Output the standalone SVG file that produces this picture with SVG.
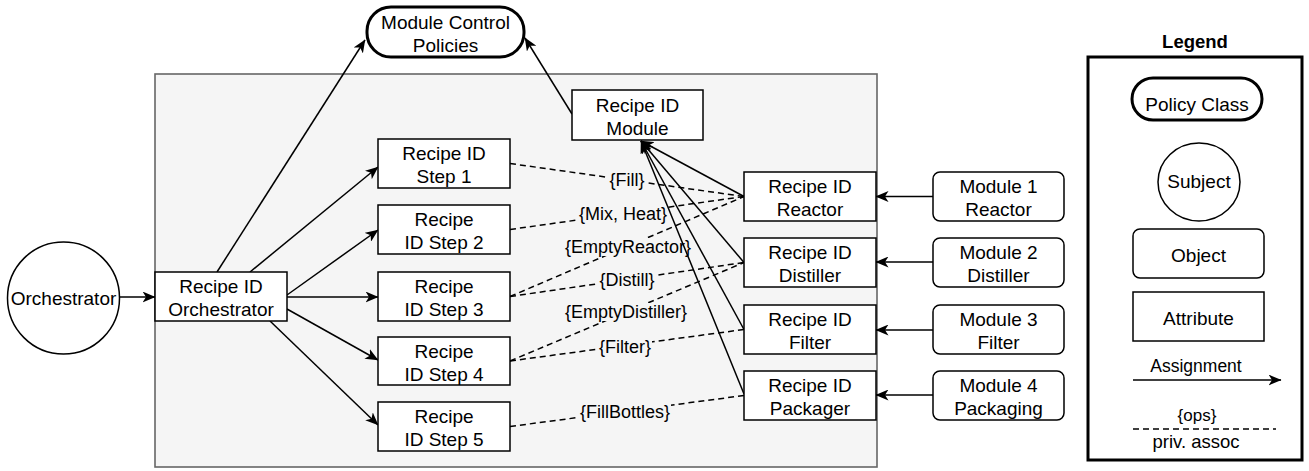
<svg xmlns="http://www.w3.org/2000/svg" width="1309" height="471" viewBox="0 0 1309 471">
<defs>
<style>
text{font-family:"Liberation Sans",Arial,Helvetica,sans-serif;fill:#000;text-anchor:middle}
.t{font-size:19px}
.lbl{font-size:18px}
.box{fill:#fff;stroke:#000;stroke-width:1.5}
.pill{fill:#fff;stroke:#000;stroke-width:3}
.edge{fill:none;stroke:#000;stroke-width:1.5;marker-end:url(#arr)}
.dash{fill:none;stroke:#000;stroke-width:1.5;stroke-dasharray:6 4}
.lbg{fill:#f5f5f5}
</style>
<marker id="arr" viewBox="0 0 13 11" refX="12.5" refY="5.5" markerWidth="13" markerHeight="11" markerUnits="userSpaceOnUse" orient="auto">
<path d="M0,0 L13,5.5 L0,11 L3.5,5.5 Z" fill="#000"/>
</marker>
</defs>
<rect width="1309" height="471" fill="#fff"/>
<g id="container">
<rect x="155" y="74" width="722" height="393" fill="#f5f5f5" stroke="#666" stroke-width="1.6"/>
</g>
<g id="connectors">
<line class="dash" x1="510" y1="163.5" x2="744" y2="196.5"/>
<line class="dash" x1="510" y1="229.5" x2="744" y2="196.5"/>
<line class="dash" x1="510" y1="296.5" x2="744" y2="196.5"/>
<line class="dash" x1="510" y1="296.5" x2="744" y2="262.5"/>
<line class="dash" x1="510" y1="361" x2="744" y2="262.5"/>
<line class="dash" x1="510" y1="361" x2="744" y2="329.5"/>
<line class="dash" x1="510" y1="426.5" x2="744" y2="395.5"/>
<rect class="lbg" x="609" y="171" width="37" height="18"/><text class="lbl" x="627" y="186">{Fill}</text>
<rect class="lbg" x="578" y="205" width="90" height="18"/><text class="lbl" x="623" y="220">{Mix, Heat}</text>
<rect class="lbg" x="564" y="238" width="128" height="18"/><text class="lbl" x="628" y="253">{EmptyReactor}</text>
<rect class="lbg" x="599" y="271" width="57" height="18"/><text class="lbl" x="627" y="286">{Distill}</text>
<rect class="lbg" x="564" y="303" width="124" height="18"/><text class="lbl" x="626" y="318">{EmptyDistiller}</text>
<rect class="lbg" x="598" y="338" width="54" height="18"/><text class="lbl" x="625" y="353">{Filter}</text>
<rect class="lbg" x="579" y="403" width="92" height="18"/><text class="lbl" x="625" y="418">{FillBottles}</text>
<line class="edge" x1="119.5" y1="297" x2="155" y2="297"/>
<line class="edge" x1="217" y1="272" x2="365" y2="40"/>
<line class="edge" x1="572" y1="114" x2="525" y2="38"/>
<line class="edge" x1="250" y1="272" x2="378" y2="167"/>
<line class="edge" x1="287" y1="295" x2="378" y2="230"/>
<line class="edge" x1="287" y1="297" x2="378" y2="297"/>
<line class="edge" x1="287" y1="309" x2="378" y2="360"/>
<line class="edge" x1="270" y1="321" x2="378" y2="425"/>
<line class="edge" x1="744" y1="196.5" x2="641" y2="141"/>
<line class="edge" x1="744" y1="262.5" x2="641" y2="141"/>
<line class="edge" x1="744" y1="329.5" x2="641" y2="141"/>
<line class="edge" x1="744" y1="394" x2="641" y2="141"/>
<line class="edge" x1="933" y1="196.5" x2="876" y2="196.5"/>
<line class="edge" x1="933" y1="262" x2="876" y2="262"/>
<line class="edge" x1="933" y1="330" x2="876" y2="330"/>
<line class="edge" x1="933" y1="395" x2="876" y2="395"/>
</g>
<g id="mcp"><rect class="pill" x="367" y="7" width="157" height="50" rx="24"/><text class="t" x="445.5" y="29">Module Control</text><text class="t" x="445.5" y="52">Policies</text></g>
<g id="orchestrator"><circle class="box" cx="63.5" cy="298" r="56"/><text class="t" x="63.5" y="305">Orchestrator</text></g>
<g id="rid-orchestrator"><rect class="box" x="155" y="272" width="132" height="49"/><text class="t" x="221" y="293">Recipe ID</text><text class="t" x="221" y="316">Orchestrator</text></g>
<g id="rid-module"><rect class="box" x="572" y="90" width="131" height="50"/><text class="t" x="637.5" y="111.5">Recipe ID</text><text class="t" x="637.5" y="134.5">Module</text></g>
<g id="step1"><rect class="box" x="378" y="139" width="132" height="49"/><text class="t" x="444" y="160">Recipe ID</text><text class="t" x="444" y="183">Step 1</text></g>
<g id="step2"><rect class="box" x="378" y="205" width="132" height="49"/><text class="t" x="444" y="226">Recipe</text><text class="t" x="444" y="249">ID Step 2</text></g>
<g id="step3"><rect class="box" x="378" y="272" width="132" height="49"/><text class="t" x="444" y="293">Recipe</text><text class="t" x="444" y="316">ID Step 3</text></g>
<g id="step4"><rect class="box" x="378" y="337" width="132" height="48"/><text class="t" x="444" y="357.5">Recipe</text><text class="t" x="444" y="380.5">ID Step 4</text></g>
<g id="step5"><rect class="box" x="378" y="402" width="132" height="49"/><text class="t" x="444" y="423">Recipe</text><text class="t" x="444" y="446">ID Step 5</text></g>
<g id="rid-reactor"><rect class="box" x="744" y="172" width="132" height="49"/><text class="t" x="810" y="193">Recipe ID</text><text class="t" x="810" y="216">Reactor</text></g>
<g id="rid-distiller"><rect class="box" x="744" y="238" width="132" height="49"/><text class="t" x="810" y="259">Recipe ID</text><text class="t" x="810" y="282">Distiller</text></g>
<g id="rid-filter"><rect class="box" x="744" y="305" width="132" height="49"/><text class="t" x="810" y="326">Recipe ID</text><text class="t" x="810" y="349">Filter</text></g>
<g id="rid-packager"><rect class="box" x="744" y="371" width="132" height="49"/><text class="t" x="810" y="392">Recipe ID</text><text class="t" x="810" y="415">Packager</text></g>
<g id="module1"><rect class="box" x="933" y="172" width="131" height="49" rx="7"/><text class="t" x="998.5" y="193">Module 1</text><text class="t" x="998.5" y="216">Reactor</text></g>
<g id="module2"><rect class="box" x="933" y="238" width="131" height="49" rx="7"/><text class="t" x="998.5" y="259">Module 2</text><text class="t" x="998.5" y="282">Distiller</text></g>
<g id="module3"><rect class="box" x="933" y="305" width="131" height="49" rx="7"/><text class="t" x="998.5" y="326">Module 3</text><text class="t" x="998.5" y="349">Filter</text></g>
<g id="module4"><rect class="box" x="933" y="371" width="131" height="49" rx="7"/><text class="t" x="998.5" y="392">Module 4</text><text class="t" x="998.5" y="415">Packaging</text></g>
<g id="legend">
<text x="1195" y="48" style="font-size:18.5px;font-weight:bold">Legend</text>
<rect x="1088" y="57" width="214" height="403" fill="#fff" stroke="#000" stroke-width="3"/>
<rect class="pill" x="1132" y="78" width="130" height="42" rx="21"/><text class="t" x="1197" y="111">Policy Class</text>
<ellipse class="box" cx="1199" cy="182" rx="41" ry="39"/><text class="t" x="1199" y="188">Subject</text>
<rect class="box" x="1133" y="229" width="131" height="49" rx="7"/><text class="t" x="1198.5" y="262">Object</text>
<rect class="box" x="1133" y="292" width="131" height="49"/><text class="t" x="1198.5" y="325">Attribute</text>
<text x="1196" y="372" style="font-size:17.5px">Assignment</text>
<line class="edge" x1="1133" y1="380" x2="1281" y2="380"/>
<text x="1197" y="421" style="font-size:17px">{ops}</text>
<line class="dash" x1="1133" y1="429" x2="1276" y2="429"/>
<text x="1196" y="448" style="font-size:18.5px">priv. assoc</text>
</g>
</svg>
